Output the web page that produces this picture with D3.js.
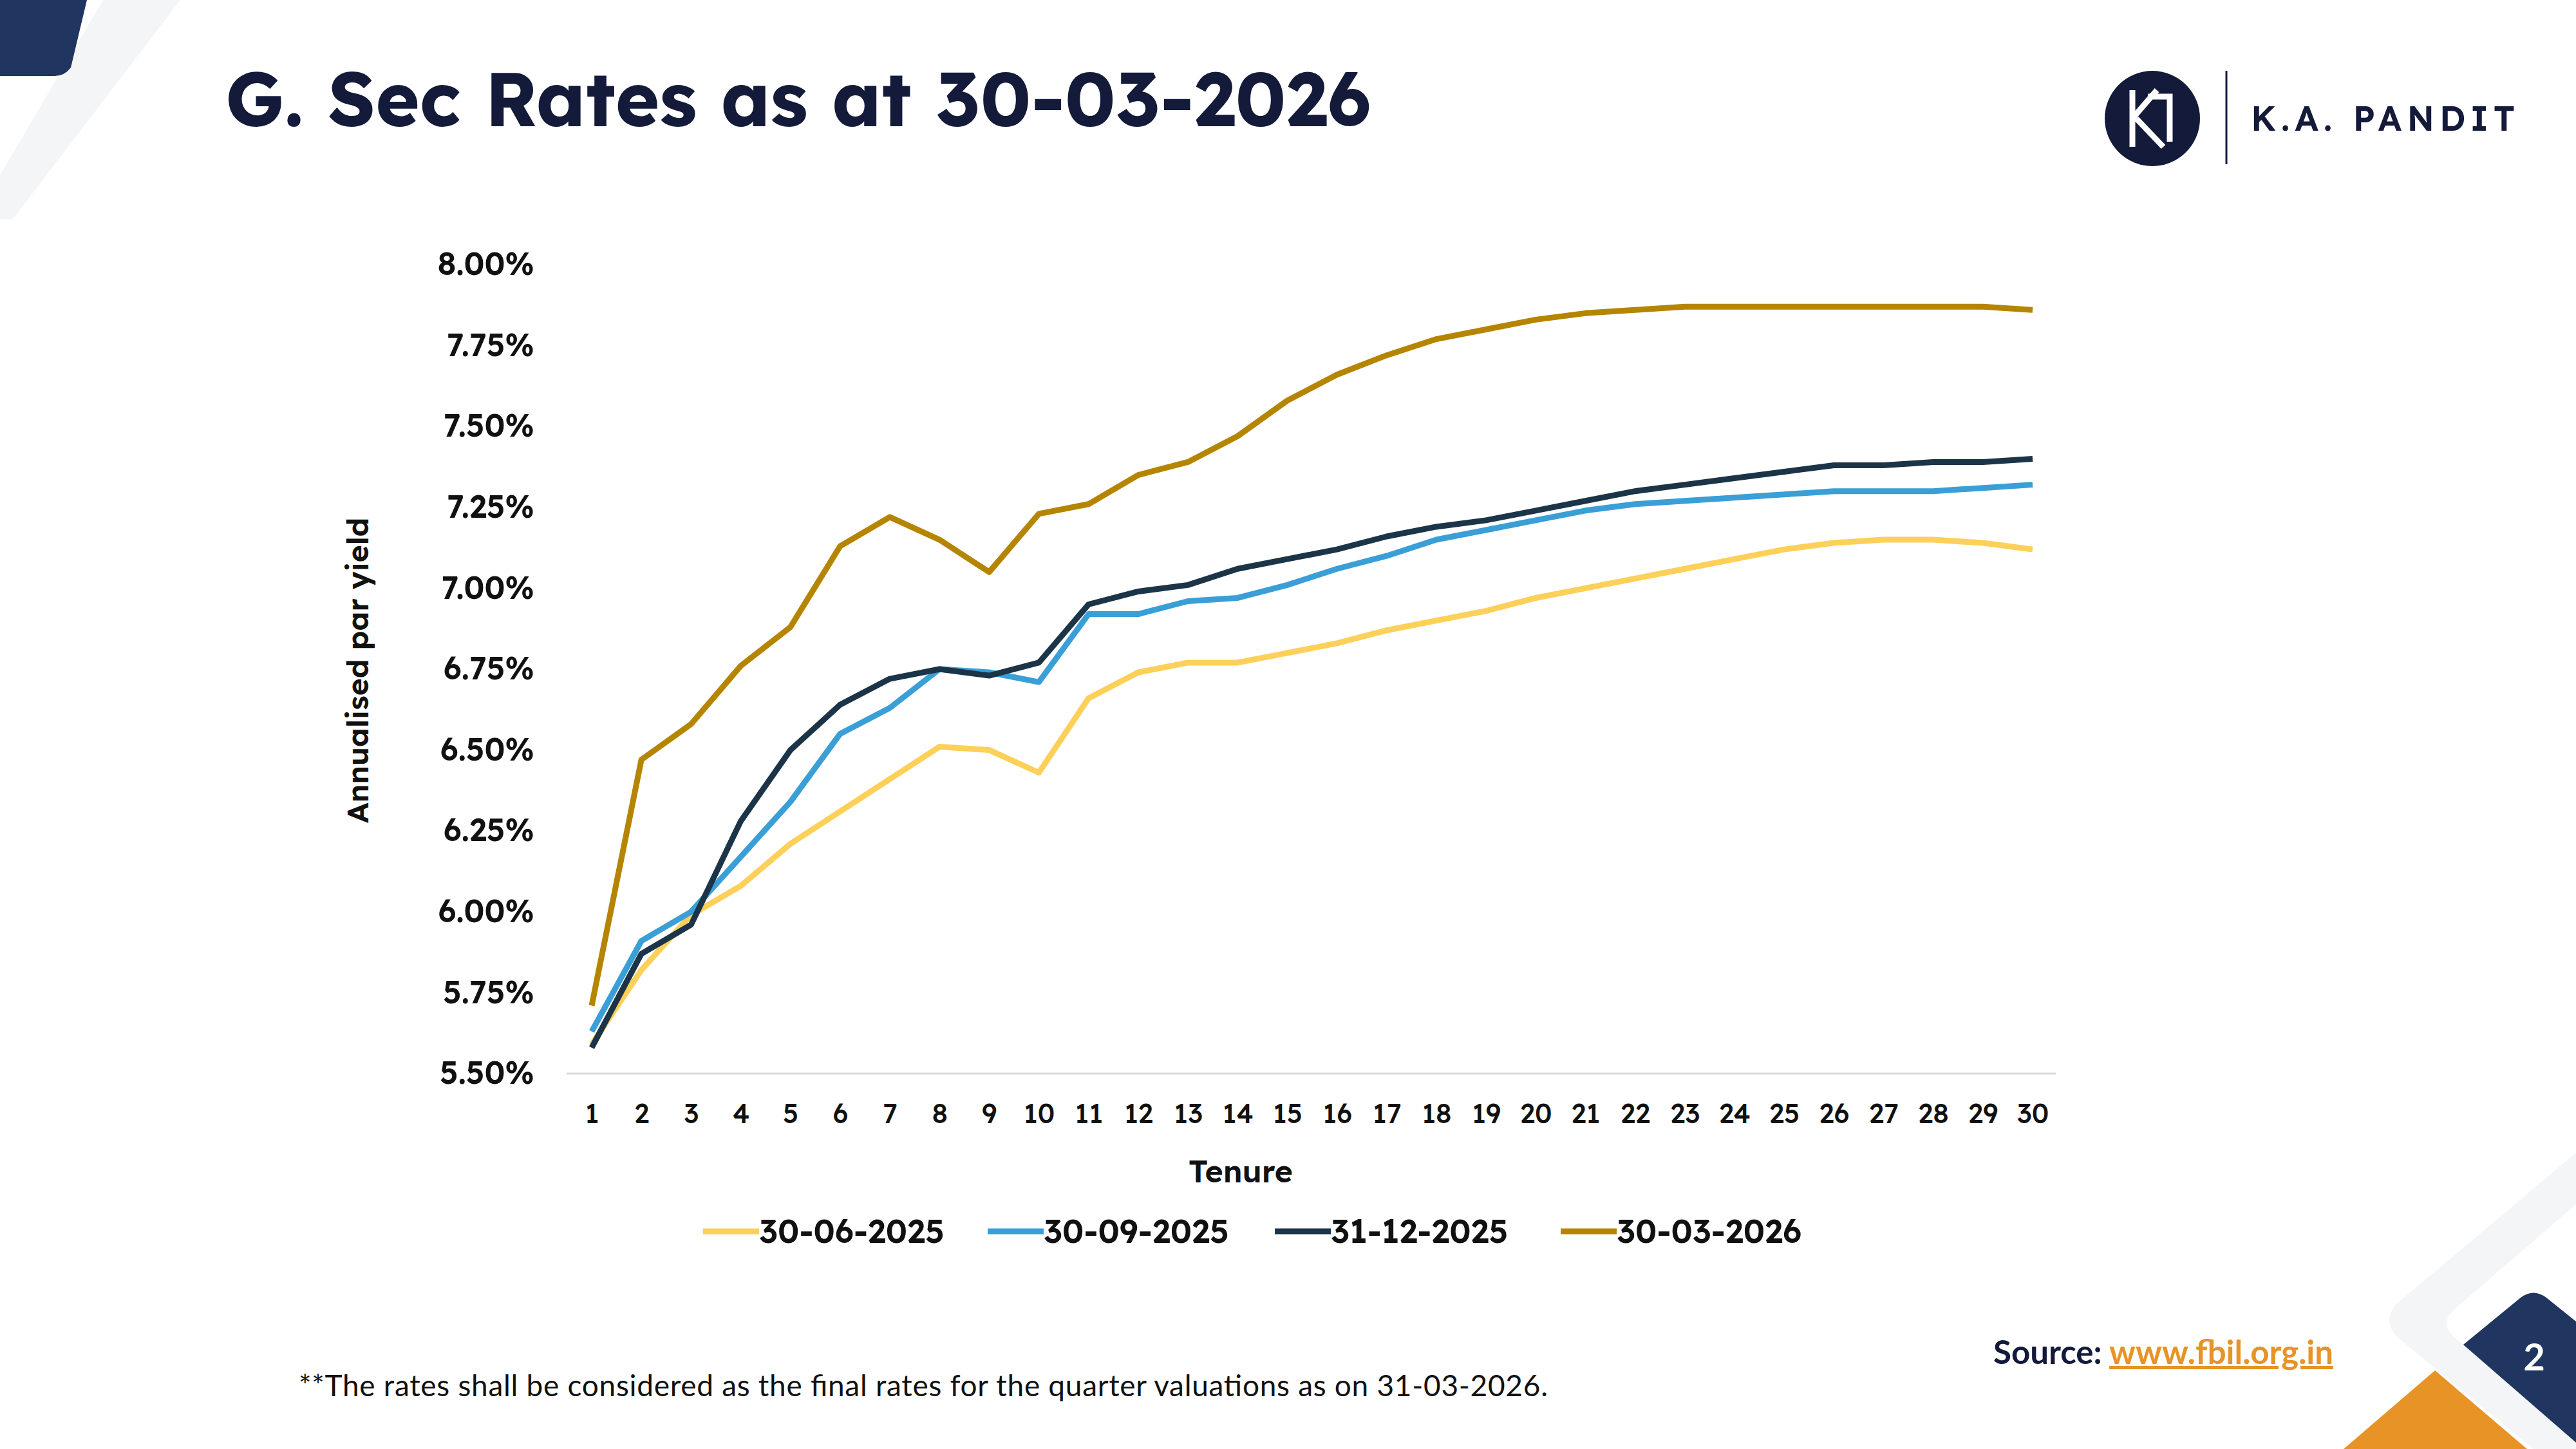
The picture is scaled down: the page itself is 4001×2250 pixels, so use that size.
<!DOCTYPE html>
<html><head><meta charset="utf-8">
<script src="https://cdn.jsdelivr.net/npm/d3@7"></script>
<style>body{margin:0;background:#fff}svg{display:block}</style>
</head><body>
<script>
const tenures = d3.range(1, 31);
const seriesNames = ["30-06-2025","30-09-2025","31-12-2025","30-03-2026"];
const seriesColors = ["#fdd05a","#3a9fd6","#1c3448","#b58500"];
const jun2025 = [5.59,5.82,5.99,6.08,6.21,6.31,6.41,6.51,6.50,6.43,6.66,6.74,6.77,6.77,6.80,6.83,6.87,6.90,6.93,6.97,7.00,7.03,7.06,7.09,7.12,7.14,7.15,7.15,7.14,7.12];
const sep2025 = [5.63,5.91,6.00,6.17,6.34,6.55,6.63,6.75,6.74,6.71,6.92,6.92,6.96,6.97,7.01,7.06,7.10,7.15,7.18,7.21,7.24,7.26,7.27,7.28,7.29,7.30,7.30,7.30,7.31,7.32];
const dec2025 = [5.58,5.87,5.96,6.28,6.50,6.64,6.72,6.75,6.73,6.77,6.95,6.99,7.01,7.06,7.09,7.12,7.16,7.19,7.21,7.24,7.27,7.30,7.32,7.34,7.36,7.38,7.38,7.39,7.39,7.40];
const mar2026 = [5.71,6.47,6.58,6.76,6.88,7.13,7.22,7.15,7.05,7.23,7.26,7.35,7.39,7.47,7.58,7.66,7.72,7.77,7.80,7.83,7.85,7.86,7.87,7.87,7.87,7.87,7.87,7.87,7.87,7.86];
const yTicks = [5.5,5.75,6,6.25,6.5,6.75,7,7.25,7.5,7.75,8];
const allSeries = [jun2025, sep2025, dec2025, mar2026];

const W=4001,H=2250;
const svg=d3.select("body").append("svg").attr("width",W).attr("height",H);
const navy="#203560", dark="#131a3a", font="Lexend, Inter, 'Open Sans', sans-serif";

// decorations
svg.append("path").attr("d","M160,0 L280,0 L20,340 L-40,340 Z").attr("fill","#f4f5f7");
svg.append("path").attr("d","M0,0 L135,0 L110,105 Q100,118 85,118 L0,118 Z").attr("fill",navy);
svg.append("path").attr("d","M4001,1790 L3722,2025 Q3700,2050 3722,2075 L3935,2250 L4001,2250 Z").attr("fill","#f4f5f7");
svg.append("path").attr("d","M4001,1870 L3810,2035 Q3790,2055 3810,2075 L4001,2230 Z").attr("fill","#fff");
svg.append("path").attr("d","M3640,2250 L3782,2128 L3925,2250 Z").attr("fill","#e89325");
svg.append("path").attr("d","M3826,2088 L3915,2015 Q3935,2000 3955,2015 L4001,2052 L4001,2240 Z").attr("fill",navy);
svg.append("text").attr("x",3936).attr("y",2128).attr("text-anchor","middle").attr("font-family","Lato, sans-serif").attr("font-weight",700).attr("font-size",58).attr("fill","#fff").text("2");

// title
svg.append("text").attr("x",350).attr("y",196).attr("font-family",font).attr("font-weight",700).attr("font-size",117).attr("fill",dark).text("G. Sec Rates as at 30-03-2026");

// logo
svg.append("circle").attr("cx",3343).attr("cy",184).attr("r",74).attr("fill",dark);
svg.append("path").attr("d","M3312,140 L3312,228 M3312,184 L3350,140 M3318,184 L3360,228 M3336,150 L3370,150 L3370,220").attr("stroke","#fff").attr("stroke-width",9).attr("fill","none");
svg.append("line").attr("x1",3458).attr("x2",3458).attr("y1",110).attr("y2",255).attr("stroke",dark).attr("stroke-width",3);
svg.append("text").attr("x",3496).attr("y",203).attr("font-family",font).attr("font-weight",600).attr("font-size",53).attr("letter-spacing",8).attr("fill",dark).text("K.A. PANDIT");

// chart
const x=d3.scalePoint().domain(tenures).range([919,3157]);
const y=d3.scaleLinear().domain([5.5,8]).range([1667,411]);
svg.append("line").attr("x1",880).attr("x2",3193).attr("y1",1667).attr("y2",1667).attr("stroke","#d9d9d9").attr("stroke-width",3);
const yAxis=svg.append("g").attr("transform","translate(830,0)").call(d3.axisLeft(y).tickValues(yTicks).tickSize(0).tickFormat(d=>d.toFixed(2)+"%"));
yAxis.select(".domain").remove();
yAxis.selectAll("text").attr("font-family",font).attr("font-weight",600).attr("font-size",49).attr("fill","#111").attr("x",0);
const xAxis=svg.append("g").attr("transform","translate(0,1711)").call(d3.axisBottom(x).tickSize(0));
xAxis.select(".domain").remove();
xAxis.selectAll("text").attr("font-family",font).attr("font-weight",500).attr("font-size",42).attr("fill","#111").attr("dy","0.71em");

const line=d3.line().x((d,i)=>x(tenures[i])).y(d=>y(d));
allSeries.forEach((s,k)=>{
  svg.append("path").attr("d",line(s)).attr("fill","none").attr("stroke",seriesColors[k]).attr("stroke-width",9).attr("stroke-linejoin","round");
});

svg.append("text").attr("x",1927).attr("y",1836).attr("text-anchor","middle").attr("font-family",font).attr("font-weight",600).attr("font-size",48).attr("fill","#111").text("Tenure");
svg.append("text").attr("transform","translate(572,1041) rotate(-90)").attr("text-anchor","middle").attr("font-family",font).attr("font-weight",600).attr("font-size",46).attr("fill","#111").text("Annualised par yield");

// legend
const lx=[1092,1534,1980,2424];
seriesNames.forEach((n,k)=>{
  svg.append("line").attr("x1",lx[k]).attr("x2",lx[k]+87).attr("y1",1912).attr("y2",1912).attr("stroke",seriesColors[k]).attr("stroke-width",9);
  svg.append("text").attr("x",lx[k]+87).attr("y",1930).attr("font-family",font).attr("font-weight",600).attr("font-size",51).attr("fill","#111").text(n);
});

// source & footnote
const src=svg.append("text").attr("x",3096).attr("y",2118).attr("font-family","Lato, 'Open Sans', sans-serif").attr("font-weight",700).attr("font-size",51).attr("fill",dark);
src.append("tspan").text("Source: ");
src.append("tspan").attr("fill","#e89325").attr("text-decoration","underline").text("www.fbil.org.in");
svg.append("text").attr("x",464).attr("y",2168).attr("font-family","Lato, 'Open Sans', sans-serif").attr("font-size",46).attr("fill","#111").attr("textLength",1940).text("**The rates shall be considered as the final rates for the quarter valuations as on 31-03-2026.");
</script>
</body></html>
